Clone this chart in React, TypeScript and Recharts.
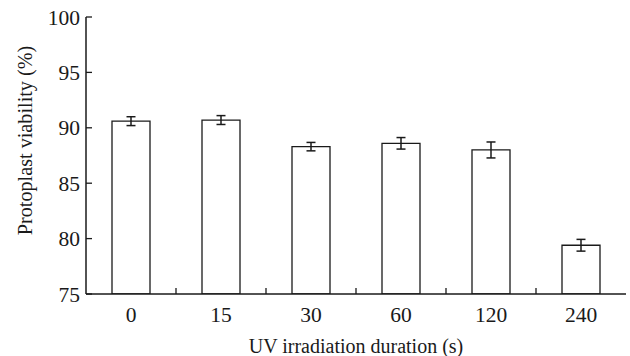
import React from 'react';
import { BarChart, Bar, XAxis, YAxis, ErrorBar } from 'recharts';

const durations = ['0', '15', '30', '60', '120', '240'];
const viability = [90.6, 90.7, 88.3, 88.6, 88.0, 79.4];
const viabilityError = [0.4, 0.4, 0.38, 0.52, 0.72, 0.53];
const yTicks = [75, 80, 85, 90, 95, 100];

const data = durations.map((d, i) => ({ duration: d, value: viability[i], err: viabilityError[i] }));

const INK = '#1a1a1a';
const FONT = '"Liberation Serif", "Times New Roman", serif';
const TICK_LEN = 6;
const TICK_FONT = 21.5;

const YTick = (props: any) => {
  const { x, y, payload } = props;
  const axisX = x + 6;
  return (
    <g>
      <line x1={axisX} y1={y} x2={axisX + TICK_LEN} y2={y} stroke={INK} strokeWidth={1.3} />
      <text x={x} y={y} dy="0.355em" textAnchor="end" fontFamily={FONT} fontSize={TICK_FONT} fill={INK}>
        {payload.value}
      </text>
    </g>
  );
};

const XTick = (props: any) => {
  const { x, y, payload, index } = props;
  const half = payload && payload.offset ? payload.offset : 45;
  const axisY = y - 13;
  const showRight = index < durations.length - 1;
  return (
    <g>
      {showRight && (
        <line x1={x + half} y1={axisY} x2={x + half} y2={axisY - TICK_LEN} stroke={INK} strokeWidth={1.3} />
      )}
      <text x={x} y={y} dy="0.71em" textAnchor="middle" fontFamily={FONT} fontSize={TICK_FONT} fill={INK}>
        {payload.value}
      </text>
    </g>
  );
};

export default function App() {
  return (
    <div style={{ position: 'absolute', left: 0, top: 0, background: '#fff' }}>
      <BarChart
        width={630}
        height={356}
        data={data}
        margin={{ top: 17, right: 4, bottom: 0, left: 0 }}
      >
        <XAxis
          dataKey="duration"
          height={62}
          tickSize={0}
          tickMargin={13}
          axisLine={{ stroke: INK, strokeWidth: 1.5 }}
          tick={<XTick />}
          interval={0}
          label={{
            value: 'UV irradiation duration (s)',
            position: 'insideBottom',
            offset: 3,
            style: { fontFamily: FONT, fontSize: 20, fill: INK },
          }}
        />
        <XAxis
          xAxisId="top"
          orientation="top"
          dataKey="duration"
          height={0}
          tick={false}
          tickLine={false}
          axisLine={{ stroke: INK, strokeWidth: 1.5 }}
        />
        <YAxis
          domain={[75, 100]}
          ticks={yTicks}
          width={86}
          tickSize={0}
          tickMargin={6}
          allowDataOverflow
          axisLine={{ stroke: INK, strokeWidth: 1.5 }}
          tick={<YTick />}
          label={{
            value: 'Protoplast viability (%)',
            angle: -90,
            position: 'center',
            dx: -18,
            dy: -15,
            style: { fontFamily: FONT, fontSize: 20.2, fill: INK, textAnchor: 'middle' },
          }}
        />
        <YAxis
          yAxisId="right"
          orientation="right"
          domain={[75, 100]}
          width={0}
          tick={false}
          tickLine={false}
          axisLine={{ stroke: INK, strokeWidth: 1.5 }}
        />
        <Bar dataKey="value" fill="#ffffff" stroke={INK} strokeWidth={1.3} barSize={38} isAnimationActive={false}>
          <ErrorBar dataKey="err" width={4.5} stroke={INK} strokeWidth={1.5} />
        </Bar>
      </BarChart>
    </div>
  );
}
